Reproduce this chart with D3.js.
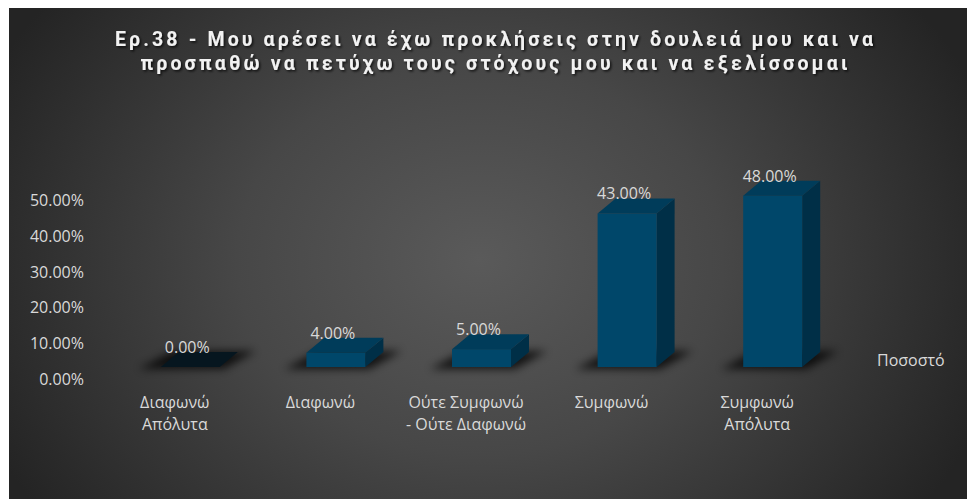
<!DOCTYPE html>
<html>
<head>
<meta charset="utf-8">
<script src="https://cdn.jsdelivr.net/npm/d3@7"></script>
<style>
  html, body { margin: 0; padding: 0; background: #ffffff; }
  svg { display: block; }
  text { font-family: "Open Sans", "Noto Sans", sans-serif; }
</style>
</head>
<body>
<svg id="chart" width="967" height="499"></svg>
<script>
// Survey answers and their share of respondents
const categories = ["Διαφωνώ Απόλυτα", "Διαφωνώ", "Ούτε Συμφωνώ - Ούτε Διαφωνώ", "Συμφωνώ", "Συμφωνώ Απόλυτα"];
const values = [0.00, 0.04, 0.05, 0.43, 0.48];
const seriesName = "Ποσοστό";
const yTicks = [0, 0.1, 0.2, 0.3, 0.4, 0.5];
const titleLines = [
  "Ερ.38 - Μου αρέσει να έχω προκλήσεις στην δουλειά μου και να",
  "προσπαθώ να πετύχω τους στόχους μου και να εξελίσσομαι"
];

const svg = d3.select("#chart");
const W = 967, H = 499;
const area = { x: 9, y: 8, w: W - 9, h: H - 8 };
const labelSize = 16;
const labelColor = "#d9d9d9";

const defs = svg.append("defs");
const bg = defs.append("radialGradient").attr("id", "bgGrad")
  .attr("gradientUnits", "userSpaceOnUse")
  .attr("cx", 480).attr("cy", 260).attr("r", 540)
  .attr("gradientTransform", "translate(480,260) scale(1,0.8) translate(-480,-260)");
bg.append("stop").attr("offset", "0%").attr("stop-color", "#5a5a5a");
bg.append("stop").attr("offset", "45%").attr("stop-color", "#474747");
bg.append("stop").attr("offset", "100%").attr("stop-color", "#242424");

const blur = defs.append("filter").attr("id", "shadowBlur")
  .attr("x", "-50%").attr("y", "-100%").attr("width", "200%").attr("height", "300%");
blur.append("feGaussianBlur").attr("stdDeviation", 4);

const tshadow = defs.append("filter").attr("id", "textShadow")
  .attr("x", "-10%").attr("y", "-50%").attr("width", "120%").attr("height", "200%");
tshadow.append("feDropShadow").attr("dx", 1.5).attr("dy", 1.5)
  .attr("stdDeviation", 1.2).attr("flood-color", "#000").attr("flood-opacity", 0.75);

svg.append("rect")
  .attr("x", area.x).attr("y", area.y).attr("width", area.w).attr("height", area.h)
  .attr("fill", "url(#bgGrad)");

// Title
svg.append("g").attr("filter", "url(#textShadow)")
  .selectAll("text").data(titleLines).join("text")
  .attr("x", 494)
  .attr("y", (d, i) => 46 + i * 24)
  .attr("text-anchor", "middle")
  .attr("fill", "#f2f2f2")
  .attr("font-size", 19.5)
  .attr("font-weight", "bold")
  .style("font-family", "Roboto, 'Open Sans', sans-serif")
  .attr("textLength", (d, i) => i === 0 ? 758 : 707)
  .attr("lengthAdjust", "spacing")
  .text(d => d);

// Scales
const x = d3.scaleBand().domain(categories).range([102, 830]);
const y = d3.scaleLinear().domain([0, 0.5]).range([367, 367 - 178.5]);
const depth = { dx: 18, dy: -15 };
const barW = 59;
const perspShift = 15.5;
const labelX = c => x(c) + x.bandwidth() / 2;
const frontCx = c => labelX(c) + perspShift;

// Value axis
const yAxis = d3.axisLeft(y).tickValues(yTicks).tickFormat(d3.format(".2%")).tickSize(0).tickPadding(0);
const gy = svg.append("g").attr("transform", "translate(84,12)").call(yAxis);
gy.select(".domain").remove();
gy.selectAll("text")
  .attr("fill", labelColor)
  .attr("font-size", labelSize)
  .style("font-family", "'Open Sans', 'Noto Sans', sans-serif");

// Bars as 3D prisms
const data = categories.map((c, i) => ({ c, v: values[i] }));
const bars = svg.append("g").selectAll("g").data(data).join("g");

bars.append("path")
  .attr("filter", "url(#shadowBlur)")
  .attr("fill", "#000")
  .attr("opacity", 0.75)
  .attr("d", d => {
    const l = frontCx(d.c) - barW / 2, r = l + barW, b = y(0);
    return `M${l - 22},${b + 2} L${r + 4},${b + 2} L${r + depth.dx + 18},${b + depth.dy - 1} L${l + depth.dx - 6},${b + depth.dy - 1} Z`;
  });

bars.each(function(d) {
  const g = d3.select(this);
  const l = frontCx(d.c) - barW / 2, r = l + barW;
  const b = y(0), t = y(d.v);
  const { dx, dy } = depth;
  if (d.v > 0) {
    g.append("path").attr("fill", "#002f47")
      .attr("d", `M${r},${b} L${r + dx},${b + dy} L${r + dx},${t + dy} L${r},${t} Z`);
    g.append("rect").attr("fill", "#00476a")
      .attr("x", l).attr("y", t).attr("width", barW).attr("height", b - t);
  }
  g.append("path").attr("fill", d.v > 0 ? "#003c5a" : "#06161f")
    .attr("d", `M${l},${t} L${r},${t} L${r + dx},${t + dy} L${l + dx},${t + dy} Z`);
});

// Data labels
bars.append("text")
  .attr("x", d => frontCx(d.c) - 3)
  .attr("y", d => y(d.v) + depth.dy + 1)
  .attr("text-anchor", "middle")
  .attr("fill", labelColor)
  .attr("font-size", labelSize)
  .text(d => d3.format(".2%")(d.v));

// Category labels: break before a dash, otherwise between words
const splitLabel = d => {
  const k = d.indexOf(" - ");
  if (k >= 0) return [d.slice(0, k), d.slice(k + 1)];
  return d.split(" ");
};

svg.append("g").selectAll("text").data(categories).join("text")
  .attr("x", d => labelX(d))
  .attr("y", 408)
  .attr("text-anchor", "middle")
  .attr("fill", labelColor)
  .attr("font-size", labelSize)
  .selectAll("tspan").data(d => splitLabel(d).map(t => ({ t, c: d }))).join("tspan")
  .attr("x", d => labelX(d.c))
  .attr("dy", (d, i) => i === 0 ? 0 : 22)
  .text(d => d.t);

// Legend
svg.append("text")
  .attr("x", 877).attr("y", 366)
  .attr("fill", labelColor)
  .attr("font-size", labelSize)
  .text(seriesName);
</script>
</body>
</html>
